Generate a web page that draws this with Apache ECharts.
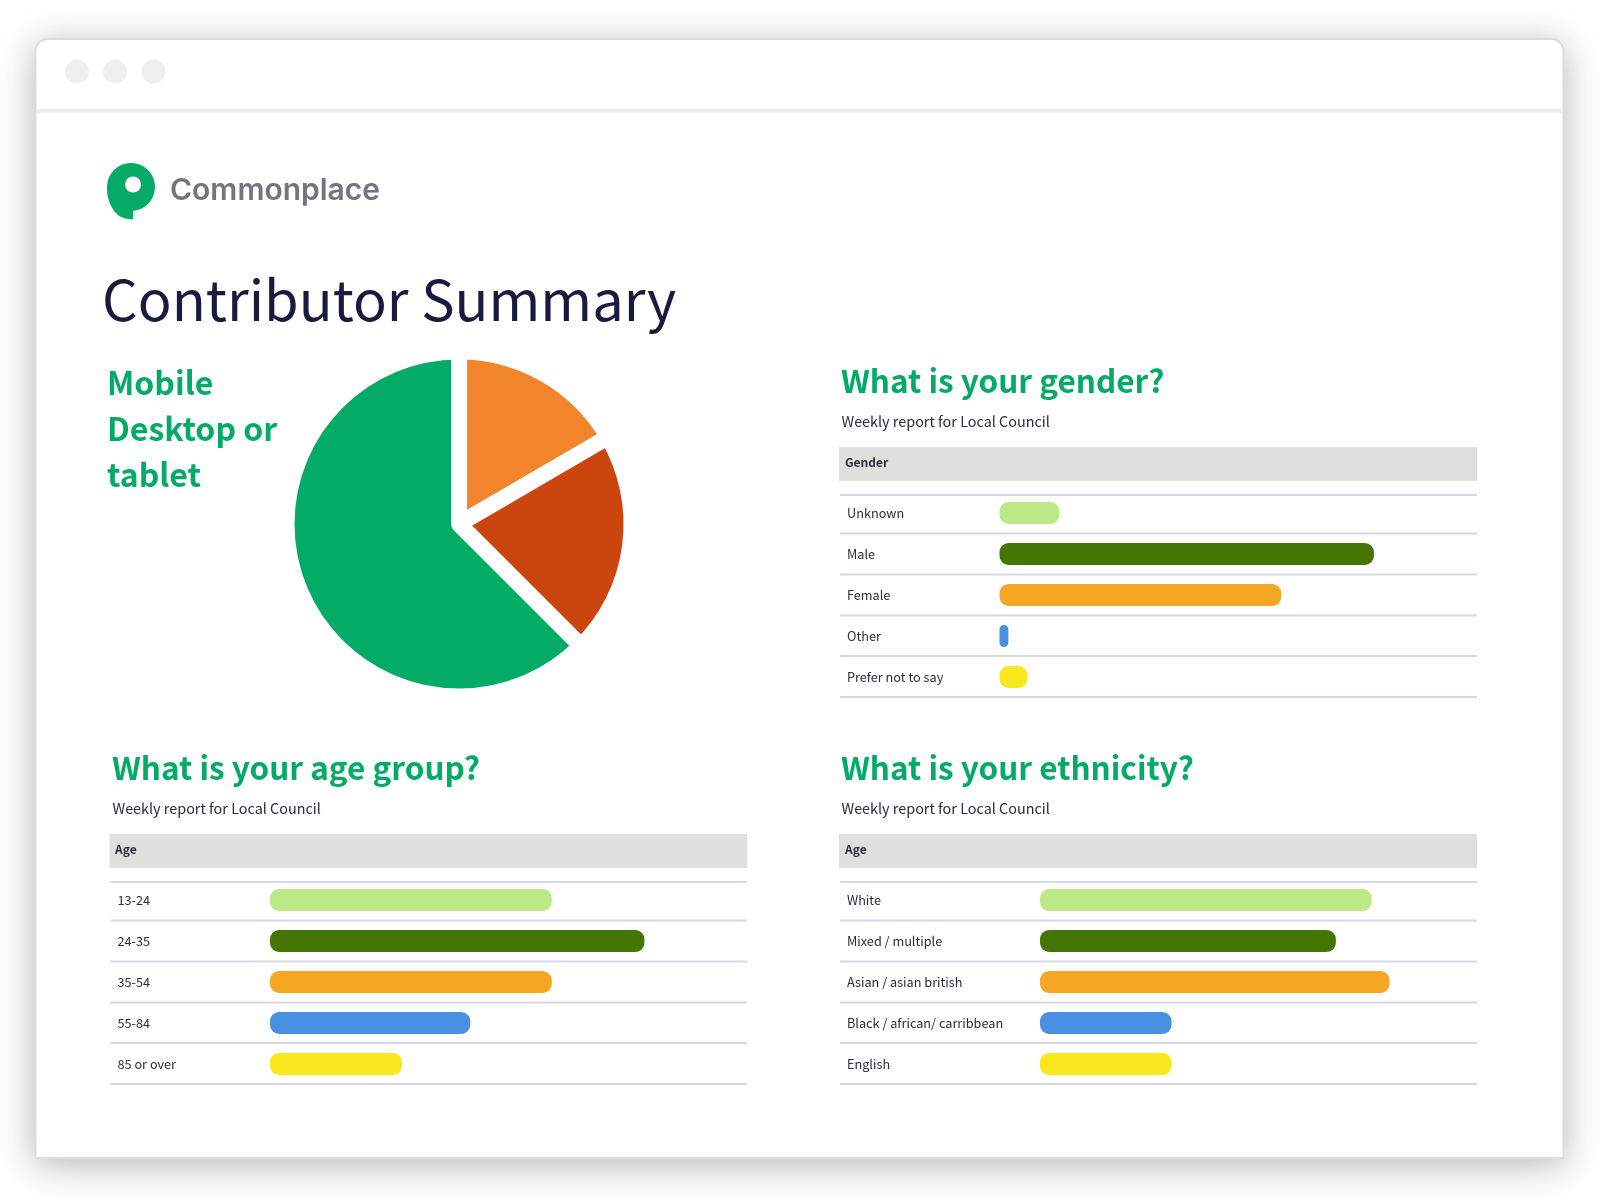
<!DOCTYPE html>
<html><head><meta charset="utf-8">
<style>html,body{margin:0;padding:0;background:#fff}#c{width:1600px;height:1200px}</style>
<script src="https://cdn.jsdelivr.net/npm/echarts@6/dist/echarts.min.js"></script>
</head><body><div id="c"></div>
<script>
const pieNames = ['Tablet', 'Desktop', 'Mobile'];
const pieValues = [16.6, 20.9, 62.5];
const pieColors = ['#F2852B', '#CC440E', '#04AB66'];
const barColors = ['#BBE986', '#457502', '#F5A623', '#4A90E2', '#F8E71C'];
const genderCats = ['Unknown', 'Male', 'Female', 'Other', 'Prefer not to say'];
const genderVals = [12.8, 80, 60.2, 1.9, 6];
const ageCats = ['13-24', '24-35', '35-54', '55-84', '85 or over'];
const ageVals = [60.2, 80, 60.2, 42.8, 28.2];
const ethnCats = ['White', 'Mixed / multiple', 'Asian / asian british', 'Black / african/ carribbean', 'English'];
const ethnVals = [75.9, 67.7, 80, 30.1, 30.1];

const SANS = '"Noto Sans CJK JP","Noto Sans",sans-serif';
const GREEN = '#04AB66', INK = '#1A1A3E', TXT = '#2A2D3A', LINE = '#D5D9E5', BAND = '#DFDFDD';

const g = [];
const txt = (text, x, y, size, fill, weight) => g.push({type:'text', z:5, x, y, style:{text, fill, font:`${weight||400} ${size}px ${SANS}`, verticalAlign:'middle', align:'left'}});

// browser window frame
g.push({type:'rect', z:0, shape:{x:35.5,y:39,width:1528,height:1119,r:[12,12,0,0]},
  style:{fill:'#fff', shadowBlur:36, shadowColor:'rgba(40,40,30,0.36)', shadowOffsetY:6}});
g.push({type:'rect', z:0, shape:{x:35.5,y:39,width:1528,height:1119,r:[12,12,0,0]},
  style:{fill:'#fff', stroke:'#DCDCDC', lineWidth:2}});
[77,115,153.5].forEach(cx => g.push({type:'circle', z:1, shape:{cx, cy:71.5, r:12}, style:{fill:'#EFEFEF'}}));
g.push({type:'rect', z:1, shape:{x:37,y:109,width:1525,height:4}, style:{fill:'#EFEFEF'}});

// logo
g.push({type:'circle', z:2, shape:{cx:131, cy:187, r:24}, style:{fill:GREEN}});
g.push({type:'polygon', z:2, shape:{points:[[107,187],[107.5,196],[110,204],[114,211],[119,216],[125,218.5],[133,219.5],[133,205],[120,190]]}, style:{fill:GREEN}});
g.push({type:'circle', z:3, shape:{cx:133, cy:184.5, r:8}, style:{fill:'#fff'}});
g.push({type:'text', z:5, x:170, y:191, style:{text:'Commonplace', fill:'#737383', font:'600 30px Inter,sans-serif', verticalAlign:'middle', align:'left'}});

txt('Contributor Summary', 102, 300, 56, INK, 400);
txt('Mobile', 107, 382.5, 32, GREEN, 700);
txt('Desktop or', 107, 428.5, 32, GREEN, 700);
txt('tablet', 107, 474.5, 32, GREEN, 700);

function panel(x0, x1, dy, title, head, subX, headX) {
  txt(title, subX, 381+dy, 31.5, GREEN, 700);
  txt('Weekly report for Local Council', subX+0.5, 421.5+dy, 14.4, TXT, 400);
  g.push({type:'rect', z:1, shape:{x:x0, y:447+dy, width:x1-x0, height:34}, style:{fill:BAND}});
  txt(head, headX, 462+dy, 12, TXT, 700);
  [495,533.5,574.5,615.5,656,697].forEach(y => g.push({type:'line', z:1,
    shape:{x1:x0+1, y1:y+dy, x2:x1, y2:y+dy}, style:{stroke:LINE, lineWidth:2}}));
}
panel(839, 1477, 0, 'What is your gender?', 'Gender', 841, 845);
panel(109.5, 747, 387, 'What is your age group?', 'Age', 112, 115);
panel(839, 1477, 387, 'What is your ethnicity?', 'Age', 841, 845);

const charts = [
  {cats:genderCats, vals:genderVals, left:999.5, width:468, top:492.5, margin:152.5},
  {cats:ageCats, vals:ageVals, left:270, width:468, top:879.5, margin:152.5},
  {cats:ethnCats, vals:ethnVals, left:1040, width:437, top:879.5, margin:193}
];
const grid=[], xAxis=[], yAxis=[], series=[];
charts.forEach((c,i)=>{
  grid.push({left:c.left, top:c.top, width:c.width, height:205, containLabel:false});
  xAxis.push({gridIndex:i, type:'value', min:0, max:100, show:false});
  yAxis.push({gridIndex:i, type:'category', inverse:true, data:c.cats,
    axisLine:{show:false}, axisTick:{show:false}, splitLine:{show:false},
    axisLabel:{align:'left', margin:c.margin, fontSize:12.7, color:TXT, fontFamily:SANS, padding:[2,0,0,0]}});
  series.push({type:'bar', xAxisIndex:i, yAxisIndex:i, barWidth:22, silent:true,
    data:c.vals.map((v,k)=>({value:v, itemStyle:{color:barColors[k], borderRadius:9}}))});
});
series.push({type:'pie', center:[459,524], radius:172.5, startAngle:90, clockwise:true, silent:true,
  label:{show:false}, labelLine:{show:false},
  itemStyle:{borderColor:'#fff', borderWidth:16},
  data:pieNames.map((n,i)=>({name:n, value:pieValues[i], itemStyle:{color:pieColors[i]}}))});

const chart = echarts.init(document.getElementById('c'), null, {renderer:'canvas', width:1600, height:1200});
chart.setOption({animation:false, backgroundColor:'#fff', graphic:{elements:g}, grid, xAxis, yAxis, series});
</script></body></html>
